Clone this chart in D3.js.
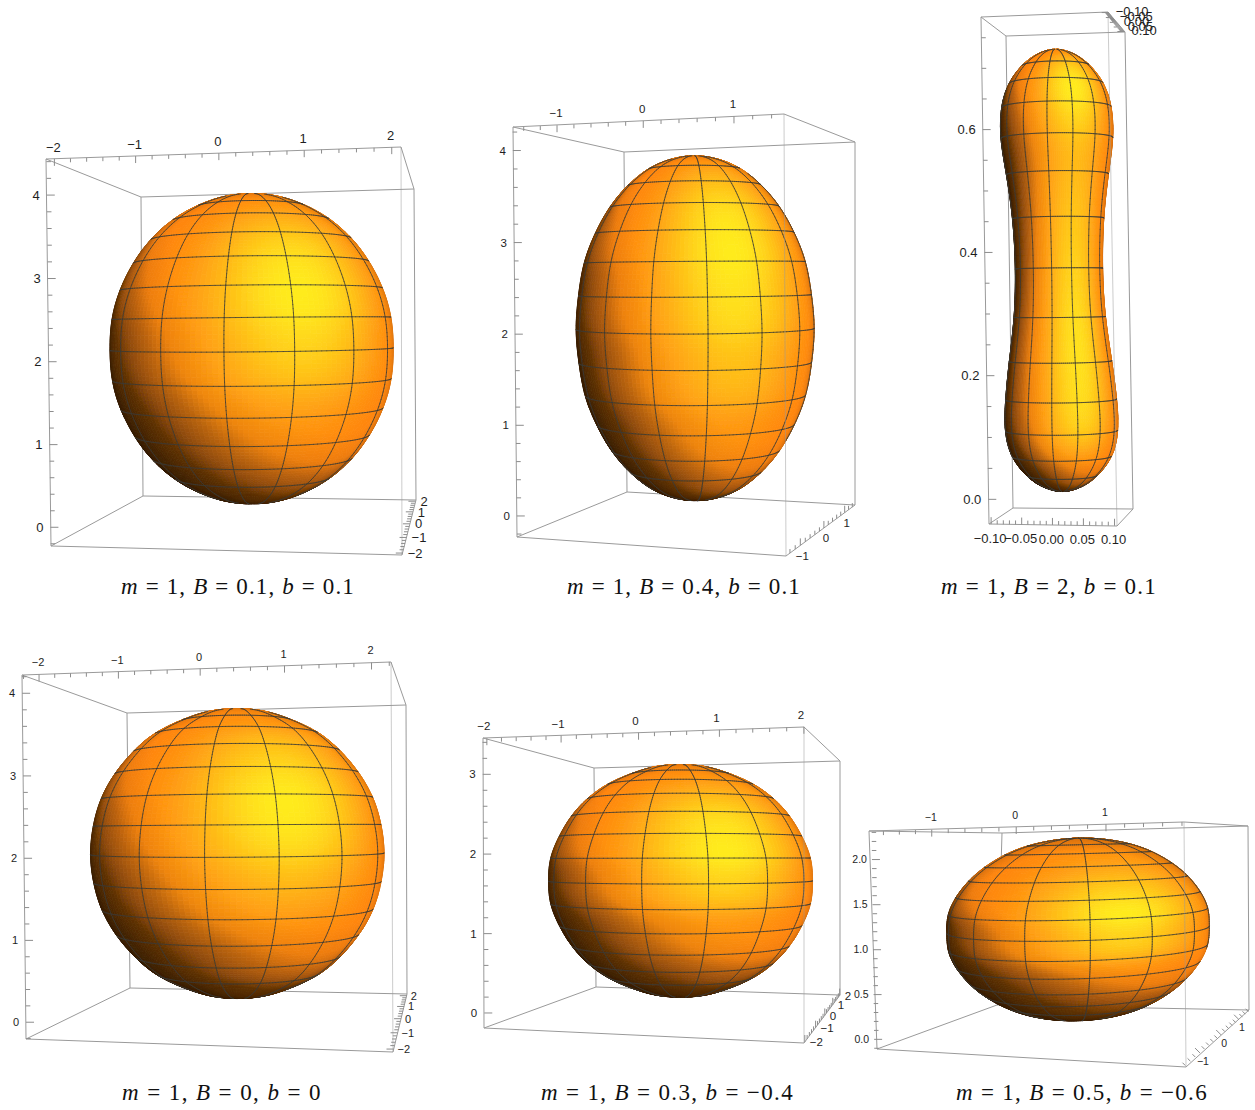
<!DOCTYPE html>
<html><head><meta charset="utf-8">
<script src="https://cdn.jsdelivr.net/npm/d3@7"></script>
<style>html,body{margin:0;padding:0;background:#fff}svg{display:block}</style>
</head><body>
<svg id="chart" width="1255" height="1110" xmlns="http://www.w3.org/2000/svg"></svg>
<script>
// ---- values ----
const captions = ["m = 1, B = 0.1, b = 0.1","m = 1, B = 0.4, b = 0.1","m = 1, B = 2, b = 0.1","m = 1, B = 0, b = 0","m = 1, B = 0.3, b = −0.4","m = 1, B = 0.5, b = −0.6"];

const meridianDeg = [-90,-64.3,-38.6,-12.9,12.9,38.6,64.3,90,115.7,141.4,167.1,192.9,218.6,244.3,270];

const z1 = [4.18,4.14,4.02,3.83,3.57,3.26,2.90,2.51,2.10,1.69,1.30,.94,.63,.37,.18,.06,.02];
const r1 = [0,.37,.72,1.05,1.34,1.57,1.75,1.86,1.89,1.86,1.75,1.57,1.34,1.05,.72,.37,0];
const z2 = [4.01,3.97,3.86,3.67,3.42,3.12,2.78,2.40,2.01,1.62,1.24,.90,.60,.35,.16,.05,.01];
const r2 = [0,.27,.53,.77,.98,1.15,1.28,1.35,1.38,1.35,1.28,1.15,.98,.77,.53,.27,0];
const z3 = [.742,.734,.715,.685,.645,.593,.532,.458,.374,.293,.219,.155,.103,.06,.028,.01,.002];
const r3 = [0,.030,.056,.078,.091,.093,.085,.076,.0726,.076,.085,.092,.093,.082,.058,.032,0];
const z4 = [3.975,3.94,3.82,3.64,3.40,3.10,2.76,2.39,2.005,1.62,1.25,.91,.61,.37,.19,.07,.035];
const r4 = [0,.39,.76,1.12,1.41,1.66,1.85,1.96,2.00,1.96,1.85,1.66,1.41,1.12,.76,.39,0];
const z5 = [3.246,3.22,3.12,2.97,2.77,2.53,2.25,1.945,1.63,1.315,1.01,.73,.49,.29,.14,.04,.014];
const r5 = [0,.36,.70,1.03,1.31,1.53,1.70,1.82,1.85,1.82,1.70,1.53,1.31,1.03,.70,.36,0];
const z6 = [2.18,2.16,2.10,2.00,1.86,1.70,1.51,1.31,1.095,.88,.68,.49,.33,.19,.09,.03,.01];
const r6 = [0,.31,.61,.88,1.12,1.31,1.46,1.55,1.57,1.55,1.46,1.31,1.12,.88,.61,.31,0];

const ticks2to2 = [-2,-1,0,1,2];
const ticks1to1 = [-1,0,1];
const ticks0to4 = [0,1,2,3,4];
const ticks0to3 = [0,1,2,3];
const ticks3x = [-.10,-.05,0,.05,.10];
const ticks3z = [0,.2,.4,.6];
const ticks6z = [0,.5,1,1.5,2];

// ---- layout (pixel anchors of each box, text offsets) ----
// corners: near TL, near TR, near BR, near BL, far TL, far TR, far BR, far BL
const layout = [
 {c:[[46,159],[401,147],[402,555],[51,546],[141,197],[414,189],[416,500],[143,496]],
  xd:[-2.1,2.1],yd:[-2.1,2.1],zd:[-.23,4.43],xt:ticks2to2,yt:ticks2to2,zt:ticks0to4,xm:.2,ym:.2,zm:.2,zDx:-7,
  fs:13,xf:d3.format("d"),zf:d3.format("d"),yf:d3.format("d"),z:z1,r:r1,rings:[2,13],shift:[0,0],
  xAt:"top",yAt:"bottom",yDir:[-1,0],xOff:[-1,-12],yOff:[5,0],yAnch:"start",capX:[121,355],capY:594},
 {c:[[513,127],[784,114],[786,556],[517,537],[624,152],[855,142],[855,505],[627,492]],
  xd:[-1.535,1.535],yd:[-1.55,1.55],zd:[-.23,4.25],xt:ticks1to1,yt:ticks1to1,zt:ticks0to4,xm:.2,ym:.2,zm:.2,zDx:-7,
  fs:11.5,xf:d3.format("d"),zf:d3.format("d"),yf:d3.format("d"),z:z2,r:r2,rings:[2,13],shift:[0,0],
  xAt:"top",yAt:"bottom",yDir:[0,-1],xOff:[-1,-12],yOff:[2,10],yAnch:"middle",capX:[567,801],capY:594},
 {c:[[981,17],[1108,12],[1117,526],[989,524],[1006,36],[1125,32],[1133,509],[1013,508]],
  xd:[-.104,.104],yd:[-.104,.104],zd:[-.04,.784],xt:ticks3x,yt:ticks3x,zt:ticks3z,xm:.01,ym:.01,zm:.05,zDx:-7,
  fs:13,xf:d3.format(".2f"),zf:d3.format(".1f"),yf:d3.format(".2f"),z:z3,r:r3,rings:[2,14],shift:[0,0],
  xAt:"bottom",yAt:"top",yDir:[-1,0],xOff:[-1,14],yOff:[7,-1],yAnch:"start",capX:[941,1157],capY:594},
 {c:[[22,675],[391,662],[393,1052],[26,1039],[127,713],[406,705],[407,994],[130,988]],
  xd:[-2.22,2.22],yd:[-2.15,2.15],zd:[-.21,4.22],xt:ticks2to2,yt:ticks2to2,zt:ticks0to4,xm:.2,ym:.2,zm:.2,zDx:-7,
  fs:11,xf:d3.format("d"),zf:d3.format("d"),yf:d3.format("d"),z:z4,r:r4,rings:[2,13],shift:[0,0],
  xAt:"top",yAt:"bottom",yDir:[-1,0],xOff:[-1,-12],yOff:[4,0],yAnch:"start",capX:[122,322],capY:1100},
 {c:[[483,738],[804,727],[804,1043],[484,1028],[594,768],[840,761],[840,995],[596,987]],
  xd:[-2.06,2.0],yd:[-2.05,2.05],zd:[-.19,3.45],xt:ticks2to2,yt:ticks2to2,zt:ticks0to3,xm:.2,ym:.2,zm:.2,zDx:-7,
  fs:11.5,xf:d3.format("d"),zf:d3.format("d"),yf:d3.format("d"),z:z5,r:r5,rings:[2,13],shift:[0,0],
  xAt:"top",yAt:"bottom",yDir:[0,-1],xOff:[-3,-12],yOff:[5,0],yAnch:"start",capX:[541,794],capY:1100},
 {c:[[869,831],[1184,822],[1186,1067],[877,1049],[1002,833],[1248,826],[1249,1010],[997,1005]],
  xd:[-1.75,1.83],yd:[-1.6,1.6],zd:[-.12,2.31],xt:ticks1to1,yt:ticks1to1,zt:ticks6z,xm:.2,ym:.2,zm:.1,zDx:-5,
  fs:10.5,xf:d3.format("d"),zf:d3.format(".1f"),yf:d3.format("d"),z:z6,r:r6,rings:[2,13],shift:[3,-1],
  xAt:"top",yAt:"bottom",yDir:[-.7,-.7],xOff:[-1,-12],yOff:[3,8],yAnch:"middle",capX:[956,1208],capY:1100}
];

const NSUB = 8, MSUB = 12;
const lightR = [.553,.603,.583];
const lightH = [.3,.32,.9];
const rRamp = d3.scaleLinear().domain([-.7,-.45,-.23,-.09,.09,.23,.42]).range([55,66,94,140,188,238,255]).clamp(true);
const fmtMinus = s => String(s).replace("-", "−");
const svg = d3.select("#chart");
const blur=svg.append("defs").append("filter").attr("id","soft").attr("filterUnits","userSpaceOnUse")
  .attr("x",0).attr("y",0).attr("width",1255).attr("height",1110);
blur.append("feGaussianBlur").attr("stdDeviation",.55);
const dot=(a,b)=>a[0]*b[0]+a[1]*b[1]+a[2]*b[2];
const cross=(a,b)=>[a[1]*b[2]-a[2]*b[1],a[2]*b[0]-a[0]*b[2],a[0]*b[1]-a[1]*b[0]];
const sub=(a,b)=>[a[0]-b[0],a[1]-b[1],a[2]-b[2]];

function shade(n){
  const rim=.78+.22*Math.min(1,Math.max(0,n[2])/.4);
  const R=rRamp(dot(n,lightR))*rim;
  const b=Math.pow(Math.max(0,dot(n,lightH)),5.5);
  const q=v=>Math.round(Math.min(255,v));
  return d3.rgb(q(R),q(.52*R+102*b),q(.06*R+15*b)).formatHex();
}

// Least-squares projective camera through the eight box corners
const cubeCorners=[[0,0,0],[1,0,0],[1,0,1],[0,0,1],[0,1,0],[1,1,0],[1,1,1],[0,1,1]];
function fitCamera(c){
  const cx=d3.mean(c,d=>d[0]),cy=d3.mean(c,d=>d[1]);
  const rows=[];
  c.forEach((pt,i)=>{
    const [u,v,w]=cubeCorners[i],sx=(pt[0]-cx)/100,sy=(pt[1]-cy)/100;
    rows.push([u,v,w,1,0,0,0,0,-sx*u,-sx*v,-sx*w,sx]);
    rows.push([0,0,0,0,u,v,w,1,-sy*u,-sy*v,-sy*w,sy]);
  });
  const N=11,M=d3.range(N).map(i=>d3.range(N+1).map(j=>d3.sum(rows,r=>r[i]*r[j])));
  for(let i=0;i<N;i++){
    let piv=i;for(let k=i+1;k<N;k++) if(Math.abs(M[k][i])>Math.abs(M[piv][i])) piv=k;
    [M[i],M[piv]]=[M[piv],M[i]];
    for(let k=0;k<N;k++){ if(k===i) continue;
      const f=M[k][i]/M[i][i];
      for(let j=i;j<=N;j++) M[k][j]-=f*M[i][j];
    }
  }
  const a=M.map((row,i)=>row[N]/row[i]);
  return (u,v,w)=>{
    const d=a[8]*u+a[9]*v+a[10]*w+1;
    return [(a[0]*u+a[1]*v+a[2]*w+a[3])/d*100+cx,(a[4]*u+a[5]*v+a[6]*w+a[7])/d*100+cy];
  };
}

function sampleProfile(rs, zs){
  const n = rs.length;
  const pts = [[-rs[2],zs[2]],[-rs[1],zs[1]]].concat(rs.map((r,i)=>[r,zs[i]]), [[-rs[n-2],zs[n-2]],[-rs[n-3],zs[n-3]]]);
  const segs = []; let cur = null;
  const ctx = {
    moveTo(x,y){cur=[x,y];}, lineTo(x,y){segs.push([cur,cur,[x,y],[x,y]]);cur=[x,y];},
    bezierCurveTo(a,b,c,d,x,y){segs.push([cur,[a,b],[c,d],[x,y]]);cur=[x,y];}, closePath(){}
  };
  d3.line().curve(d3.curveNatural).context(ctx)(pts);
  const out = [];
  const kept = segs.slice(2, segs.length-2);
  kept.forEach((s)=>{
    for(let k=0;k<NSUB;k++){
      const t=k/NSUB,m=1-t;
      const f=i=>m*m*m*s[0][i]+3*m*m*t*s[1][i]+3*m*t*t*s[2][i]+t*t*t*s[3][i];
      out.push([Math.max(0,f(0)),f(1)]);
    }
  });
  const l = kept[kept.length-1][3];
  out.push([0,l[1]]);
  out[0][0]=0;
  return out;
}

layout.forEach((p)=>{
  const sx=d3.scaleLinear().domain(p.xd).range([0,1]),
        sy=d3.scaleLinear().domain(p.yd).range([0,1]),
        sz=d3.scaleLinear().domain(p.zd).range([1,0]);
  const c=p.c;
  const cam=fitCamera(c);
  const P=(x,y,z)=>cam(sx(x),sy(y),sz(z));
  const [x0,x1]=p.xd,[y0,y1]=p.yd,[z0,z1_]=p.zd;
  const g=svg.append("g");
  const boxCol="#9a9a9a";
  const seg=(gg,a,b,col,w,op)=>gg.append("line").attr("x1",a[0]).attr("y1",a[1]).attr("x2",b[0]).attr("y2",b[1])
      .attr("stroke",col).attr("stroke-width",w).attr("stroke-opacity",op===undefined?1:op);
  [[4,5],[5,6],[6,7],[7,4],[0,4],[1,5],[2,6],[3,7]].forEach(([a,b])=>seg(g,c[a],c[b],boxCol,1));

  const xr=x1-x0,yr=y1-y0,zr=z1_-z0;
  const ax=((c[1][0]-c[0][0])+(c[5][0]-c[4][0]))/2/xr;
  const ay=(((c[4][0]+c[5][0])-(c[0][0]+c[1][0]))/2)/yr;
  const A=Math.hypot(ax,ay),del=Math.atan2(ay,ax);
  const Zs=(((c[3][1]-c[0][1])+(c[2][1]-c[1][1])+(c[7][1]-c[4][1])+(c[6][1]-c[5][1]))/4)/zr;
  const xc=(x0+x1)/2,yc=(y0+y1)/2;
  const W=(x,y,z)=>{const dx=x-xc,dy=y-yc;
    return [A*(dx*Math.cos(del)+dy*Math.sin(del)),Zs*z,A*(dx*Math.sin(del)-dy*Math.cos(del))];};

  const prof=sampleProfile(p.r,p.z);
  const phis=[];
  for(let i=0;i<meridianDeg.length-1;i++) for(let k=0;k<MSUB;k++)
    phis.push((meridianDeg[i]+(meridianDeg[i+1]-meridianDeg[i])*k/MSUB)*Math.PI/180);
  phis.push(meridianDeg[meridianDeg.length-1]*Math.PI/180);
  const rows=prof.length,cols=phis.length;
  const mx=prof.map(([r,z])=>phis.map(f=>[xc+r*Math.cos(f),yc+r*Math.sin(f),z]));
  const mv=mx.map(row=>row.map(q=>W(q[0],q[1],q[2])));
  const ms=mx.map(row=>row.map(q=>P(q[0],q[1],q[2])));
  const vis=[];
  const buckets=new Map();
  for(let i=0;i<rows-1;i++){
    vis.push([]);
    for(let j=0;j<cols-1;j++){
      const a=mv[i][j],b=mv[i][j+1],d=mv[i+1][j],e=mv[i+1][j+1];
      let n=cross(sub(e,a),sub(d,b));
      const ax0=W(xc,yc,(prof[i][1]+prof[i+1][1])/2);
      const q=[(a[0]+e[0])/2-ax0[0],(a[1]+e[1])/2-ax0[1],(a[2]+e[2])/2-ax0[2]];
      const flip=dot(n,q)<0?-1:1;
      if(flip<0) n=n.map(v=>-v);
      const len=Math.hypot(...n)||1;
      n=n.map(v=>v/len);
      const A1=ms[i][j],B1=ms[i][j+1],C1=ms[i+1][j+1],D1=ms[i+1][j];
      const area=(C1[0]-A1[0])*(-(D1[1]-B1[1]))-(-(C1[1]-A1[1]))*(D1[0]-B1[0]);
      const v=area*flip>0;
      vis[i].push(v);
      if(!v) continue;
      const key=shade(n);
      if(!buckets.has(key)) buckets.set(key,d3.path());
      const pth=buckets.get(key);
      pth.moveTo(A1[0],A1[1]);pth.lineTo(B1[0],B1[1]);pth.lineTo(C1[0],C1[1]);pth.lineTo(D1[0],D1[1]);pth.closePath();
    }
  }
  const surf=g.append("g").attr("transform",`translate(${p.shift[0]},${p.shift[1]})`).attr("filter","url(#soft)");
  const gs=surf.append("g");
  Array.from(buckets.keys()).sort().forEach(k=>{
    gs.append("path").attr("d",buckets.get(k).toString()).attr("fill",k).attr("stroke",k).attr("stroke-width",.8).attr("stroke-linejoin","round");
  });
  const lp=d3.path();
  for(let R=p.rings[0];R<=p.rings[1];R++){
    const i=R*NSUB;
    for(let j=0;j<cols-1;j++){
      if((vis[i-1]&&vis[i-1][j])||(vis[i]&&vis[i][j])){
        lp.moveTo(ms[i][j][0],ms[i][j][1]);lp.lineTo(ms[i][j+1][0],ms[i][j+1][1]);
      }
    }
  }
  for(let J=0;J<cols-1;J+=MSUB){
    for(let i=0;i<rows-1;i++){
      const jl=(J-1+cols-1)%(cols-1);
      if(vis[i][J]||vis[i][jl]){
        lp.moveTo(ms[i][J][0],ms[i][J][1]);lp.lineTo(ms[i+1][J][0],ms[i+1][J][1]);
      }
    }
  }
  surf.append("path").attr("d",lp.toString()).attr("fill","none").attr("stroke","#3a3a34").attr("stroke-opacity",.78).attr("stroke-width",1).attr("stroke-linecap","round");

  [[0,1],[2,3],[3,0]].forEach(([a,b])=>seg(g,c[a],c[b],boxCol,1));
  seg(g,c[1],c[2],boxCol,1,.5);

  const tickLine=(pt,dir,len)=>seg(g,pt,[pt[0]+dir[0]*len,pt[1]+dir[1]*len],"#8c8c8c",1);
  const minors=(dom,step)=>d3.range(Math.ceil(dom[0]/step-1e-6),Math.floor(dom[1]/step+1e-6)+1).map(k=>k*step);
  const xZ=p.xAt==="top"?z1_:z0, xDir=p.xAt==="top"?[0,1]:[0,-1];
  const yZ=p.yAt==="top"?z1_:z0;
  const isMaj=(v,list,step)=>list.some(t=>Math.abs(t-v)<step/10);
  minors(p.xd,p.xm).forEach(v=>tickLine(P(v,y0,xZ),xDir,isMaj(v,p.xt,p.xm)?7:4));
  minors(p.zd,p.zm).forEach(v=>tickLine(P(x0,y0,v),[1,0],isMaj(v,p.zt,p.zm)?8:4.5));
  minors(p.yd,p.ym).forEach(v=>tickLine(P(x1,v,yZ),p.yDir,isMaj(v,p.yt,p.ym)?7:4));

  const txt=(pt,dx,dy,s,anchor)=>g.append("text").attr("x",pt[0]+dx).attr("y",pt[1]+dy).attr("dy",".36em")
    .attr("text-anchor",anchor).attr("font-family","'Liberation Sans',Arimo,sans-serif").attr("font-size",p.fs).attr("fill","#1e1e1e").text(fmtMinus(s));
  p.xt.forEach(v=>txt(P(v,y0,xZ),p.xOff[0],p.xOff[1],p.xf(v),"middle"));
  p.zt.forEach(v=>txt(P(x0,y0,v),p.zDx,0,p.zf(v),"end"));
  p.yt.forEach(v=>txt(P(x1,v,yZ),p.yOff[0],p.yOff[1],p.yf(v),p.yAnch));
});

captions.forEach((s,i)=>{
  const l=layout[i];
  const t=svg.append("text").attr("x",l.capX[0]).attr("y",l.capY)
    .attr("font-family","'Liberation Serif',serif").attr("font-size",23).attr("fill","#111").style("white-space","pre");
  s.split(/([mBb])/).filter(d=>d.length).forEach(tok=>{
    t.append("tspan").attr("font-style",/^[mBb]$/.test(tok)?"italic":"normal").text(tok);
  });
  const w=t.node().getComputedTextLength();
  t.attr("letter-spacing",((l.capX[1]-l.capX[0])-w)/s.length);
});
</script>
</body></html>
